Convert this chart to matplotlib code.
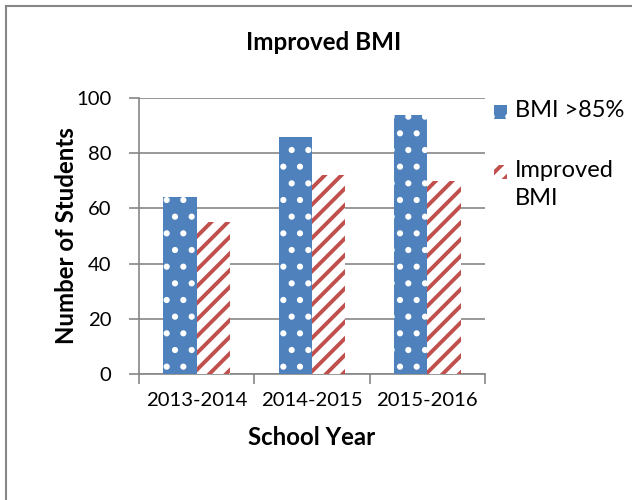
import numpy as np
import matplotlib
matplotlib.use('Agg')
import matplotlib.pyplot as plt
from matplotlib.lines import Line2D
from matplotlib.patches import Rectangle

# Data
years = ['2013-2014', '2014-2015', '2015-2016']
bmi_over_85 = [64, 86, 94]
improved_bmi = [55, 72, 70]
series_names = ['BMI >85%', 'Improved\nBMI']

blue = '#4F81BD'
red = '#C0504D'
grey = '#868686'

plt.rcParams['font.family'] = ['Lato', 'DejaVu Sans']

W, H = 632, 500
fig = plt.figure(figsize=(W / 100, H / 100), dpi=100)
ax = fig.add_axes([139 / W, 126 / H, 346 / W, 276 / H])

x = np.arange(len(years))
w = 0.29
b1 = ax.bar(x - w / 2, bmi_over_85, w, facecolor=blue, edgecolor='white',
            hatch='.', linewidth=0, zorder=3)
b2 = ax.bar(x + w / 2, improved_bmi, w, facecolor='white', edgecolor=red,
            hatch='//', linewidth=0, zorder=3)
for p in b1:
    p.set_hatch_linewidth(2.0)
for p in b2:
    p.set_hatch_linewidth(2.8)

ax.set_xlim(-0.5, 2.5)
ax.set_ylim(0, 100)
ax.set_yticks(range(0, 101, 20))
ax.yaxis.grid(True, color=grey, linewidth=1.2, zorder=0)
ax.set_axisbelow(True)

# category boundaries get the tick marks, names sit in between
ax.set_xticks([-0.5, 0.5, 1.5, 2.5])
ax.set_xticklabels([])
ax.set_xticks(x, minor=True)
ax.set_xticklabels(years, minor=True, fontsize=14.6)
ax.tick_params(axis='x', which='major', length=7, color=grey, width=1.2)
ax.tick_params(axis='x', which='minor', length=0, pad=13)
ax.tick_params(axis='y', length=7, color=grey, width=1.2, labelsize=14.6, pad=13)

for s in ['top', 'right']:
    ax.spines[s].set_visible(False)
for s in ['left', 'bottom']:
    ax.spines[s].set_color(grey)
    ax.spines[s].set_linewidth(1.2)

ax.set_ylabel('Number of Students', fontsize=17.3, fontweight='bold')
ax.yaxis.set_label_coords(-0.176, 0.5)
ax.set_xlabel('School Year', fontsize=17.3, fontweight='bold', labelpad=12)
fig.text(324 / W, 1 - 42 / H, 'Improved BMI', fontsize=17.4,
         fontweight='bold', ha='center', va='center')

# legend, drawn by hand so the marker sits on the first line of a wrapped label
leg_y = [112, 172]
for name, y, src, hlw in zip(series_names, leg_y, [b1[0], b2[0]], [2.0, 2.8]):
    r = Rectangle((494 / W, 1 - (y + 7) / H), 13 / W, 14 / H, transform=fig.transFigure,
                  facecolor=src.get_facecolor(), edgecolor=src.get_edgecolor(),
                  hatch=src.get_hatch(), linewidth=0)
    r.set_hatch_linewidth(hlw)
    fig.add_artist(r)
    fig.text(515 / W, 1 - (y - 12) / H, name, fontsize=17, ha='left', va='top',
             linespacing=1.4)

# outer chart border (top and left visible)
fig.add_artist(Line2D([6 / W, 6 / W], [0, 1 - 6 / H], transform=fig.transFigure,
                      color=grey, linewidth=1.5))
fig.add_artist(Line2D([6 / W, 1], [1 - 6 / H, 1 - 6 / H], transform=fig.transFigure,
                      color=grey, linewidth=1.5))

fig.savefig('out.png', dpi=100)
